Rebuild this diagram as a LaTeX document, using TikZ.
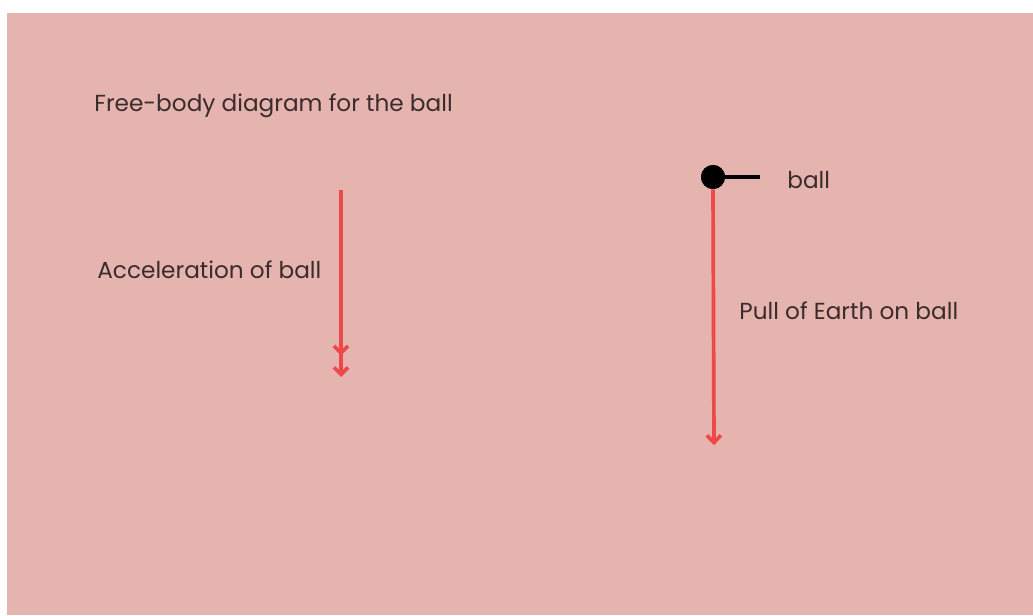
\documentclass[tikz,border=0pt]{standalone}
\usepackage{fontspec}
\setmainfont{Poppins}
\usepackage{tikz}
\usetikzlibrary{calc}
\usetikzlibrary{arrows.meta}
\definecolor{bgpink}{HTML}{E6B4AF}
\definecolor{arrowred}{HTML}{EE4848}
\definecolor{inkgray}{HTML}{3A2C2C}
\tikzset{
  lbl/.style={anchor=west, inner sep=0pt, text=inkgray, font=\fontsize{13.2}{15}\selectfont},
  force/.style={arrowred, line width=2.1pt, -{Straight Barb[length=4pt,width=8pt]}},
}
\newcommand{\pinkbox}[4]{\fill[bgpink] ( #1 , #2 ) rectangle ( #3 , #4 );}
\begin{document}
\begin{tikzpicture}[x=0.02cm, y=-0.02cm]
        \useasboundingbox (0,0) rectangle (1033,615);
        \pinkbox{7}{13}{1033}{615}
        % titles
        \node[lbl] (title) at (94,106) {Free-body diagram for the ball};
        \node[lbl] (acclbl) at (97,270) {Acceleration of ball};
        \node[lbl] (balllbl) at (787,180) {ball};
        \node[lbl] (pulllbl) at (739,311) {Pull of Earth on ball};
        % acceleration
        \coordinate (accA) at (341,190);
        \coordinate (accB) at (341,377);
        \draw[arrowred, line width=2.1pt, -{Straight Barb[length=4pt,width=8pt,sep=0.2cm]Straight Barb[length=4pt,width=8pt]}] (accA) -- (accB);
        % ball and its pull
        \node[circle, fill=black, inner sep=0pt, minimum size=0.48cm] (ball) at (713,177) {};
        \coordinate (tick) at (760,177);
        \coordinate (pullB) at (714,445);
        \draw[force] (ball.south) -- (pullB);
        \draw[black, line width=2pt] (ball.east) -- (tick);
        \fill[black] (ball) circle (0.24cm);
\end{tikzpicture}
\end{document}
